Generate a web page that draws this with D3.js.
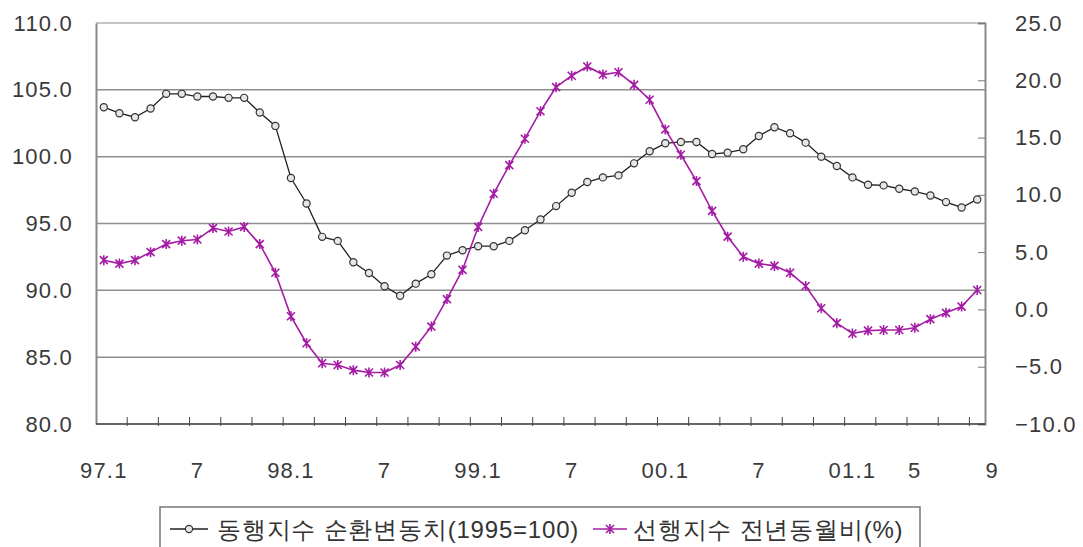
<!DOCTYPE html>
<html>
<head>
<meta charset="utf-8">
<script src="https://cdn.jsdelivr.net/npm/d3@7"></script>
<style>
  body { margin: 0; background: #fff; }
  text { font-family: "Liberation Sans", Arial, sans-serif; }
</style>
</head>
<body>
<script>
// 월별 카테고리 (97.1 ~ 01.9)
const months = d3.range(57).map(i => (97 + Math.floor(i / 12)) % 100 + "." + (i % 12 + 1));

// 동행지수 순환변동치 (왼쪽 축)
const coincident = [103.7, 103.25, 102.95, 103.6, 104.7, 104.7, 104.5, 104.5, 104.4, 104.4,
  103.3, 102.3, 98.4, 96.5, 94.0, 93.7, 92.1, 91.3, 90.3, 89.6,
  90.5, 91.2, 92.6, 93.0, 93.3, 93.3, 93.7, 94.5, 95.3, 96.3,
  97.3, 98.1, 98.45, 98.6, 99.5, 100.4, 101.0, 101.1, 101.1, 100.2,
  100.3, 100.55, 101.55, 102.2, 101.75, 101.05, 100.0, 99.3, 98.45, 97.9,
  97.85, 97.6, 97.4, 97.1, 96.6, 96.2, 96.8];

// 선행지수 전년동월비 (오른쪽 축)
const leading = [4.3, 4.0, 4.3, 5.0, 5.7, 6.0, 6.1, 7.1, 6.8, 7.2,
  5.7, 3.2, -0.6, -2.95, -4.7, -4.85, -5.3, -5.5, -5.5, -4.85,
  -3.25, -1.5, 0.9, 3.45, 7.2, 10.1, 12.6, 14.9, 17.3, 19.4,
  20.4, 21.2, 20.5, 20.7, 19.6, 18.3, 15.7, 13.5, 11.2, 8.6,
  6.35, 4.6, 4.0, 3.8, 3.2, 2.05, 0.1, -1.2, -2.1, -1.85,
  -1.8, -1.8, -1.6, -0.85, -0.3, 0.25, 1.7];

// x축 라벨
const xLabelIdx = [0, 6, 12, 18, 24, 30, 36, 42, 48, 52, 56];
const xLabelText = ["97.1", "7", "98.1", "7", "99.1", "7", "00.1", "7", "01.1", "5", "9"];
const leftTicks = [80, 85, 90, 95, 100, 105, 110];
const rightTicks = [-10, -5, 0, 5, 10, 15, 20, 25];

const legendNames = ["동행지수 순환변동치(1995=100)", "선행지수 전년동월비(%)"];

const W = 1083, H = 547;
const pLeft = 96, pRight = 985, pTop = 23, pBottom = 424;
const magenta = "#a41ca3";

const svg = d3.select("body").append("svg")
  .attr("width", W)
  .attr("height", H);

const x = d3.scaleBand().domain(d3.range(months.length)).range([pLeft, pRight]);
const cx = i => x(i) + x.bandwidth() / 2;
const yL = d3.scaleLinear().domain([80, 110]).range([pBottom, pTop]);
const yR = d3.scaleLinear().domain([-10, 25]).range([pBottom, pTop]);

// 격자선
svg.append("g")
  .selectAll("line")
  .data(leftTicks.filter(d => d > 80))
  .join("line")
  .attr("x1", pLeft).attr("x2", pRight)
  .attr("y1", d => yL(d)).attr("y2", d => yL(d))
  .attr("stroke", d => d === 110 ? "#c4c4c4" : "#8e8e8e")
  .attr("stroke-width", d => d === 110 ? 2 : 1.5);

// 왼쪽 축
const gL = svg.append("g")
  .attr("transform", `translate(${pLeft},0)`)
  .call(d3.axisLeft(yL).tickValues(leftTicks).tickFormat(d3.format(".1f")).tickSize(0).tickPadding(23));
gL.select(".domain").attr("stroke", "#8a8a8a").attr("stroke-width", 2);

// 오른쪽 축
const gR = svg.append("g")
  .attr("transform", `translate(${pRight},0)`)
  .call(d3.axisRight(yR).tickValues(rightTicks).tickFormat(d3.format(".1f")).tickSize(-7).tickPadding(30));
gR.select(".domain").attr("stroke", "#8a8a8a").attr("stroke-width", 2);
gR.selectAll(".tick line").attr("stroke", "#777");

svg.selectAll(".tick text")
  .attr("font-family", "Liberation Sans, Arial, sans-serif")
  .attr("font-size", 22)
  .attr("letter-spacing", 1.2)
  .attr("fill", "#3a3a3a");

// x축
svg.append("line")
  .attr("x1", pLeft).attr("x2", pRight)
  .attr("y1", pBottom).attr("y2", pBottom)
  .attr("stroke", "#333").attr("stroke-width", 1.5);

svg.append("g")
  .selectAll("line")
  .data(d3.range(2, months.length, 2))
  .join("line")
  .attr("x1", d => x(d)).attr("x2", d => x(d))
  .attr("y1", pBottom - 7).attr("y2", pBottom + 2)
  .attr("stroke", "#444");

svg.append("g")
  .selectAll("text")
  .data(xLabelIdx)
  .join("text")
  .attr("x", (d, i) => cx(d) + (i === xLabelIdx.length - 1 ? 15 : 0))
  .attr("y", 470)
  .attr("dy", "0.35em")
  .attr("text-anchor", "middle")
  .attr("font-size", 22)
  .attr("letter-spacing", 1.2)
  .attr("fill", "#3a3a3a")
  .text((d, i) => xLabelText[i]);

// 동행지수 선
const lineL = d3.line().x((d, i) => cx(i)).y(d => yL(d));
svg.append("path")
  .datum(coincident)
  .attr("d", lineL)
  .attr("fill", "none")
  .attr("stroke", "#222")
  .attr("stroke-width", 1.3);

svg.append("g")
  .selectAll("circle")
  .data(coincident)
  .join("circle")
  .attr("cx", (d, i) => cx(i))
  .attr("cy", d => yL(d))
  .attr("r", 3.6)
  .attr("fill", "#e6e6e6")
  .attr("stroke", "#333")
  .attr("stroke-width", 1.2);

// 선행지수 선
const lineR = d3.line().x((d, i) => cx(i)).y(d => yR(d));
svg.append("path")
  .datum(leading)
  .attr("d", lineR)
  .attr("fill", "none")
  .attr("stroke", magenta)
  .attr("stroke-width", 1.6);

const star = "M-4,-4L4,4M-4,4L4,-4M0,-5L0,5";
svg.append("g")
  .selectAll("path")
  .data(leading)
  .join("path")
  .attr("transform", (d, i) => `translate(${cx(i)},${yR(d)})`)
  .attr("d", star)
  .attr("stroke", magenta)
  .attr("stroke-width", 1.6);

// 범례
const lg = svg.append("g");
lg.append("rect")
  .attr("x", 160).attr("y", 507)
  .attr("width", 760).attr("height", 60)
  .attr("fill", "#fff")
  .attr("stroke", "#777")
  .attr("stroke-width", 1.5);

lg.append("line")
  .attr("x1", 170).attr("x2", 208).attr("y1", 529).attr("y2", 529)
  .attr("stroke", "#222").attr("stroke-width", 1.3);
lg.append("circle")
  .attr("cx", 189).attr("cy", 529).attr("r", 3.6)
  .attr("fill", "#e6e6e6").attr("stroke", "#333").attr("stroke-width", 1.2);

lg.append("line")
  .attr("x1", 593).attr("x2", 627).attr("y1", 529).attr("y2", 529)
  .attr("stroke", magenta).attr("stroke-width", 1.6);
lg.append("path")
  .attr("transform", "translate(610,529)")
  .attr("d", star)
  .attr("stroke", magenta).attr("stroke-width", 1.6);

lg.selectAll("text.leg")
  .data(legendNames)
  .join("text")
  .attr("class", "leg")
  .attr("x", (d, i) => i === 0 ? 217 : 633)
  .attr("y", 529)
  .attr("dy", "0.36em")
  .attr("font-family", "Noto Sans CJK KR, sans-serif")
  .attr("font-size", 24)
  .attr("letter-spacing", 0.8)
  .attr("fill", "#333")
  .text(d => d);
</script>
</body>
</html>
